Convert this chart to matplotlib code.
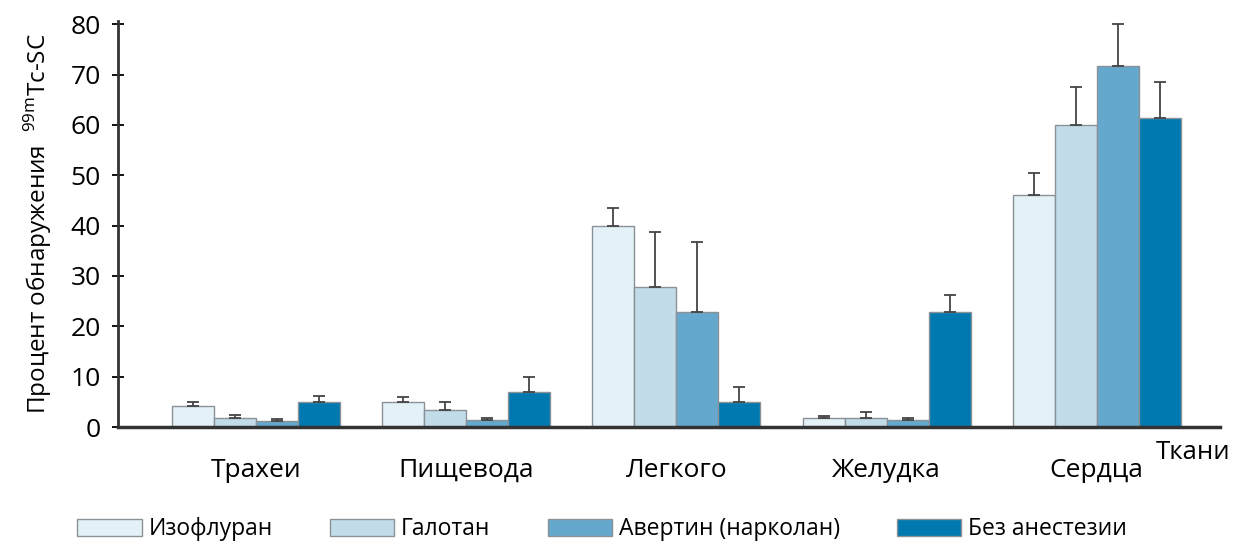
import numpy as np
import matplotlib
matplotlib.use("Agg")
from matplotlib import pyplot as plt

plt.rcParams['font.family'] = ['Open Sans', 'DejaVu Sans']

tissues = ["Трахеи", "Пищевода", "Легкого", "Желудка", "Сердца"]
groups = ["Изофлуран", "Галотан", "Авертин (нарколан)", "Без анестезии"]

isoflurane = [4.1, 4.9, 40.0, 1.7, 46.0]
isoflurane_err = [0.8, 1.0, 3.6, 0.4, 4.4]
halothane = [1.8, 3.3, 27.9, 1.8, 60.0]
halothane_err = [0.5, 1.6, 10.8, 1.2, 7.5]
avertin = [1.2, 1.3, 22.8, 1.3, 71.8]
avertin_err = [0.3, 0.4, 14.0, 0.4, 8.2]
no_anesthesia = [4.9, 6.9, 4.9, 22.8, 61.3]
no_anesthesia_err = [1.2, 3.0, 3.0, 3.5, 7.3]

colors = ["#e4f1f6", "#c3dcea", "#65a8ce", "#0079b1"]

fig = plt.figure(figsize=(12.34, 5.44), dpi=100)
ax = fig.add_axes([0.0956, 0.215, 0.893, 0.746])

x = np.arange(len(tissues))
w = 0.2
series = [(isoflurane, isoflurane_err), (halothane, halothane_err),
          (avertin, avertin_err), (no_anesthesia, no_anesthesia_err)]
handles = []
for i, (vals, errs) in enumerate(series):
    pos = x + (i - 1.5) * w
    b = ax.bar(pos, vals, w, color=colors[i], edgecolor="#8a9298", linewidth=1.0,
               label=groups[i], zorder=2)
    ax.errorbar(pos, vals, yerr=[np.zeros(len(errs)), errs], fmt="none",
                ecolor="#444444", elinewidth=1.3, capsize=4, capthick=1.3, zorder=3)
    handles.append(b)

ax.set_xlim(-0.657, 4.586)
ax.set_ylim(0, 80.6)
ax.set_yticks(np.arange(0, 81, 10))
ax.tick_params(axis="y", direction="inout", length=9, width=1.3, labelsize=19, pad=8)
ax.set_xticks(x)
ax.set_xticklabels(tissues, fontsize=19)
ax.tick_params(axis="x", length=0, pad=22)
for s in ["top", "right"]:
    ax.spines[s].set_visible(False)
ax.spines["left"].set_linewidth(2)
ax.spines["bottom"].set_linewidth(2.5)
ax.spines["left"].set_color("#333333")
ax.spines["bottom"].set_color("#333333")

ax.set_ylabel("Процент обнаружения  $^{\\mathregular{99m}}$Tc-SC", fontsize=17.5, labelpad=12)
fig.text(0.997, 0.168, "Ткани", fontsize=18.5, ha="right", va="center")

fig.legend(handles=handles, labels=groups, loc="center", bbox_to_anchor=(0.488, 0.027),
           ncol=4, frameon=False, fontsize=16.5, handlelength=2.8, handleheight=0.75,
           handletextpad=0.3, columnspacing=2.5)

fig.savefig("out.png", dpi=100)
